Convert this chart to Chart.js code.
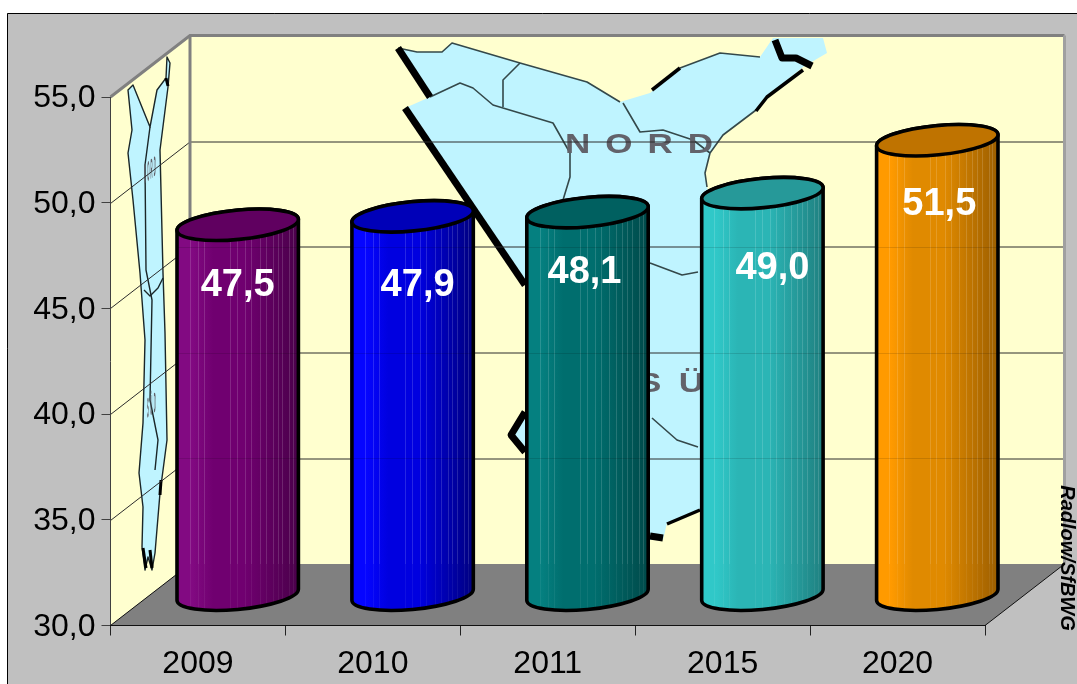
<!DOCTYPE html>
<html><head><meta charset="utf-8">
<style>html,body{margin:0;padding:0;background:#fff;overflow:hidden}canvas{display:block}</style>
<script src="https://cdn.jsdelivr.net/npm/chart.js@4/dist/chart.umd.min.js"></script>
</head><body><canvas id="c" width="1077" height="684"></canvas>
<script>
const categories = ['2009','2010','2011','2015','2020'];
const values = [47.5,47.9,48.1,49.0,51.5];
const yTicks = [30,35,40,45,50,55];
const barLeft  = ['#820a82','#0505ff','#058080','#30c8c8','#ff9a00'];
const barMid   = ['#700070','#0000e0','#006e6e','#2bb5b5','#e08a00'];
const barRight = ['#4a004a','#000080','#004a4a','#1f8080','#9c5e00'];
const barTop   = ['#600060','#0000b8','#006060','#269999','#bf7300'];
const labelDrop = [61,69,60,75,64];
const labelShift = [0,5,-3,10,2];
const stripeAt = [.107,.173,.227,.44,.493,.56,.613,.68,.733,.787,.827,.867,.92,.952];
const depthX = 79.5, depthY = -61.5;

const mapOutline = [[398,48],[417,52],[442,52],[452,43],[520,63],[587,82],[620,102],[650,93],[680,68],[720,53],[760,57],[773,38],[823,38],[827,53],[803,67],[767,97],[760,107],[723,135],[710,153],[705,173],[707,187],[740,300],[740,500],[700,510],[667,523],[663,540],[620,540],[525,452],[510,435],[525,412],[560,340],[523,277],[405,108],[430,97]];
const mapBlackThick = [[[398,48],[430,97]],[[405,108],[525,285]],[[525,412],[511,435],[525,452]],[[650,536],[663,538]],[[775,40],[782,58],[796,58],[812,66]]];
const mapBlackThin = [[[667,524],[700,510]],[[652,90],[680,68]],[[756,111],[767,97],[803,70]]];
const mapBorders = [[[430,97],[460,83],[473,88],[493,105],[553,123],[570,153],[570,177],[563,200]],[[520,63],[503,80],[503,107]],[[623,103],[640,132],[663,130],[693,140],[710,153]],[[650,263],[682,275],[698,272]],[[652,418],[677,440],[698,447]],[[760,107],[723,135],[710,153],[705,173],[707,187]],[[398,48],[417,52],[442,52],[452,43],[520,63],[587,82],[620,102]],[[680,68],[720,53],[760,57]]];
const sideMap = [[128,90],[133,85],[150,127],[157,90],[166,78],[167,57],[170,63],[168,87],[160,150],[163,273],[165,333],[167,440],[160,493],[155,553],[152,570],[148,557],[145,570],[142,547],[143,507],[139,473],[143,423],[145,340],[140,273],[133,200],[128,153],[132,130]];
const sideBorders = [[[150,127],[145,165],[146,270],[152,300],[150,400],[158,440],[155,470]],[[144,290],[150,296],[158,288],[163,278]]];
const sideBlotches = [[[143,548],[146,568]],[[150,550],[152,568]],[[161,480],[160,495]],[[166,78],[168,86]]];

function poly(ctx,pts,close){ctx.beginPath();pts.forEach((p,i)=>i?ctx.lineTo(p[0],p[1]):ctx.moveTo(p[0],p[1]));if(close)ctx.closePath();}

const scene = {
  id:'scene',
  beforeDraw(chart){
    const ctx=chart.ctx, y=chart.scales.y, a=chart.chartArea;
    const L=a.left,R=a.right,T=a.top,B=a.bottom;
    ctx.save();
    ctx.fillStyle='#fff';ctx.fillRect(0,0,1077,684);
    ctx.fillStyle='#c0c0c0';ctx.fillRect(7,13,1070,671);
    ctx.strokeStyle='#000';ctx.lineWidth=1;
    ctx.beginPath();ctx.moveTo(1077,13.5);ctx.lineTo(7.5,13.5);ctx.lineTo(7.5,684);ctx.stroke();
    // walls
    ctx.fillStyle='#ffffcf';
    poly(ctx,[[L,T],[L+depthX,T+depthY],[L+depthX,B+depthY],[L,B]],true);ctx.fill();
    ctx.fillRect(L+depthX,T+depthY,R-L,B-T);
    // map pictures on the walls
    ctx.save();
    ctx.filter='blur(0.7px)';
    ctx.fillStyle='#bff4ff';
    poly(ctx,mapOutline,true);ctx.fill();
    poly(ctx,sideMap,true);ctx.fill();
    ctx.strokeStyle='#34484a';ctx.lineWidth=1.6;ctx.lineJoin='round';
    mapBorders.forEach(p=>{poly(ctx,p);ctx.stroke();});
    ctx.strokeStyle='#000';ctx.lineWidth=7;
    mapBlackThick.forEach(p=>{poly(ctx,p);ctx.stroke();});
    ctx.lineWidth=3.5;
    mapBlackThin.forEach(p=>{poly(ctx,p);ctx.stroke();});
    ctx.lineWidth=1.4;ctx.strokeStyle='#1a2628';
    poly(ctx,sideMap,true);ctx.stroke();
    sideBorders.forEach(p=>{poly(ctx,p);ctx.stroke();});
    ctx.lineWidth=3;ctx.strokeStyle='#000';
    sideBlotches.forEach(p=>{poly(ctx,p);ctx.stroke();});
    // map names
    ctx.fillStyle='#62626a';ctx.textAlign='left';ctx.textBaseline='alphabetic';
    ctx.font='bold 28px "Liberation Sans"';
    const named=(txt,x,yy,sp,tf)=>{ctx.save();ctx.translate(x,yy);if(tf)ctx.transform(...tf);else ctx.scale(1.25,1);ctx.letterSpacing=sp;ctx.fillText(txt,0,0);ctx.restore();};
    named('NORD',565,153,'12px');
    named('SÜD',638,392,'14px');
    named('NORD',144,184,'12px',[.1,-.077,0,1,0,0]);
    named('SÜD',147,418,'14px',[.1,-.077,0,1,0,0]);
    ctx.restore();
    // floor
    ctx.fillStyle='#808080';
    poly(ctx,[[L,B],[L+depthX,B+depthY],[R+depthX,B+depthY],[R,B]],true);ctx.fill();
    // grid lines on both walls
    ctx.strokeStyle='#2c2c2c';ctx.lineWidth=1;
    yTicks.slice(1,-1).forEach(v=>{
      const p=Math.round(y.getPixelForValue(v))+.5;
      ctx.beginPath();ctx.moveTo(L,p);ctx.lineTo(L+depthX,p+depthY);ctx.lineTo(R+depthX,p+depthY);ctx.stroke();
    });
    // wall edges
    ctx.strokeStyle='#808080';ctx.lineWidth=3;
    ctx.beginPath();ctx.moveTo(L,T);ctx.lineTo(L+depthX,T+depthY);ctx.lineTo(R+depthX,T+depthY);ctx.stroke();
    ctx.beginPath();ctx.moveTo(L+depthX,T+depthY);ctx.lineTo(L+depthX,B+depthY);ctx.stroke();
    ctx.strokeStyle='#a0a0a0';
    ctx.beginPath();ctx.moveTo(R+depthX,T+depthY);ctx.lineTo(R+depthX,B+depthY);ctx.stroke();
    ctx.strokeStyle='#111';ctx.lineWidth=1;
    ctx.beginPath();ctx.moveTo(L,B);ctx.lineTo(L+depthX,B+depthY);ctx.stroke();
    ctx.beginPath();ctx.moveTo(R,B);ctx.lineTo(R+depthX,B+depthY);ctx.stroke();
    ctx.restore();
  },
  beforeDatasetDraw(chart,args){
    const ctx=chart.ctx, yS=chart.scales.y, floorY=chart.chartArea.bottom+depthY;
    const meta=chart.getDatasetMeta(args.index);
    const rot=-5.5*Math.PI/180, shiftX=depthX/2, shiftY=depthY/2;
    meta.data.forEach((el,i)=>{
      const p=el.getProps(['x','y','width'],true);
      const a=p.width/2,b=p.width*.12,cx=p.x+shiftX,top=p.y+shiftY,base=yS.getPixelForValue(yS.min)+shiftY;
      const t0=Math.atan2(b*Math.sin(-rot),a*Math.cos(rot));
      const grad=ctx.createLinearGradient(cx-a,0,cx+a,0);
      grad.addColorStop(0,barLeft[i]);grad.addColorStop(.12,barLeft[i]);
      grad.addColorStop(.3,barMid[i]);grad.addColorStop(.55,barMid[i]);grad.addColorStop(1,barRight[i]);
      const body=()=>{ctx.beginPath();ctx.ellipse(cx,base,a,b,rot,t0,t0+Math.PI,false);ctx.ellipse(cx,top,a,b,rot,t0+Math.PI,t0+2*Math.PI,false);ctx.closePath();};
      ctx.save();
      body();ctx.fillStyle=grad;ctx.fill();
      ctx.save();body();ctx.clip();
      ctx.lineWidth=1;
      stripeAt.forEach(f=>{
        const x=Math.round(cx-a+f*2*a)+.5;
        ctx.strokeStyle='rgba(255,255,255,.15)';
        ctx.beginPath();ctx.moveTo(x,top);ctx.lineTo(x,floorY);ctx.stroke();
        ctx.strokeStyle='rgba(255,255,255,.06)';
        ctx.beginPath();ctx.moveTo(x,floorY);ctx.lineTo(x,base+b+4);ctx.stroke();
      });
      ctx.strokeStyle='rgba(0,0,0,.12)';
      yTicks.slice(1,-1).forEach(v=>{
        const g=Math.round(yS.getPixelForValue(v)+depthY)+.5;
        if(g>top){ctx.beginPath();ctx.moveTo(cx-a,g);ctx.lineTo(cx+a,g);ctx.stroke();}
      });
      ctx.restore();
      ctx.strokeStyle='#000';ctx.lineWidth=3.6;ctx.lineJoin='round';
      body();ctx.stroke();
      ctx.beginPath();ctx.ellipse(cx,top,a,b,rot,0,2*Math.PI);ctx.fillStyle=barTop[i];ctx.fill();ctx.stroke();
      ctx.restore();
    });
    return false;
  },
  afterDatasetsDraw(chart){
    const ctx=chart.ctx, meta=chart.getDatasetMeta(0);
    ctx.save();
    ctx.fillStyle='#fff';ctx.textAlign='center';ctx.textBaseline='middle';
    ctx.font='bold 38px "Liberation Sans"';
    meta.data.forEach((el,i)=>{
      ctx.fillText(values[i].toFixed(1).replace('.',','),el.x+depthX/2+labelShift[i],el.y+depthY/2+labelDrop[i]);
    });
    ctx.fillStyle='#000';
    ctx.translate(1067,558);ctx.rotate(Math.PI/2);
    ctx.font='italic bold 20px "Liberation Sans"';
    ctx.fillText('Radlow/SfBWG',0,0);
    ctx.restore();
  }
};

new Chart(document.getElementById('c'),{
  type:'bar',
  data:{labels:categories,datasets:[{data:values,backgroundColor:barMid,barPercentage:122/175,categoryPercentage:1}]},
  options:{
    responsive:false,animation:false,
    layout:{padding:{top:97,right:92,left:0,bottom:0},autoPadding:false},
    plugins:{legend:{display:false},tooltip:{enabled:false},title:{display:false}},
    scales:{
      y:{min:30,max:55,
        afterFit(s){s.width=110.5;},
        afterBuildTicks(s){s.ticks=yTicks.map(v=>({value:v}));},
        grid:{drawOnChartArea:false,color:'#404040',tickColor:'#404040',drawTicks:true,tickLength:9,lineWidth:1},
        border:{color:'#404040',width:1},
        ticks:{color:'#000',padding:6,labelOffset:1.5,font:{family:'"Liberation Sans"',size:32},callback:v=>v.toFixed(1).replace('.',',')}},
      x:{
        afterFit(s){s.height=58.5;},
        grid:{drawOnChartArea:false,color:'#222',tickColor:'#222',drawTicks:true,tickLength:10,lineWidth:1},
        border:{color:'#111',width:1},
        ticks:{color:'#000',padding:9,maxRotation:0,font:{family:'"Liberation Sans"',size:32}}}
    }
  },
  plugins:[scene]
});
</script></body></html>
